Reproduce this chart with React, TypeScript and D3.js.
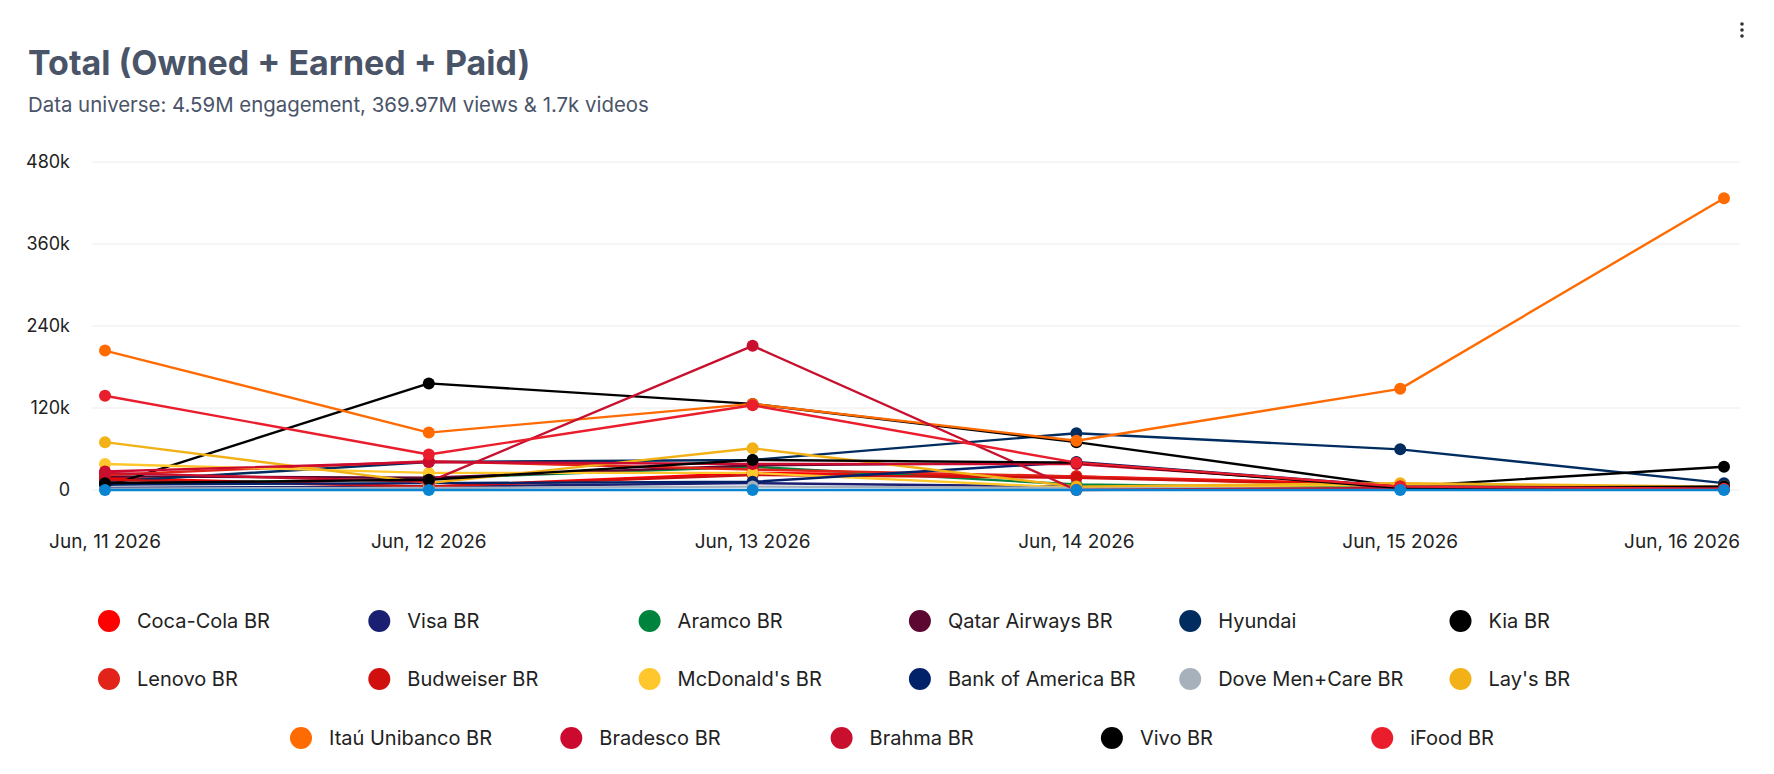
import React, { useRef, useEffect } from 'react';
import * as d3 from 'd3';

const dates = ['Jun, 11 2026', 'Jun, 12 2026', 'Jun, 13 2026', 'Jun, 14 2026', 'Jun, 15 2026', 'Jun, 16 2026'];
const yTicks = [0, 120000, 240000, 360000, 480000];

const brands = [
  'Coca-Cola BR', 'Visa BR', 'Aramco BR', 'Qatar Airways BR', 'Hyundai', 'Kia BR',
  'Lenovo BR', 'Budweiser BR', "McDonald's BR", 'Bank of America BR', 'Dove Men+Care BR', "Lay's BR",
  'Itaú Unibanco BR', 'Bradesco BR', 'Brahma BR', 'Vivo BR', 'iFood BR',
];
const colors = [
  '#FF0000', '#1A1F71', '#00843D', '#5C0632', '#002C5F', '#000000',
  '#E2231A', '#D0100F', '#FFC72C', '#012169', '#A7B1BC', '#F2B217',
  '#FF6B00', '#CC092F', '#C8102E', '#000000', '#EA1D2C',
];
// values in thousands, one per date
const values = [
  [18, 5, 25, 20, 8, 3],
  [3, 5, 10, 5, 2, 2],
  [8, 17, 34, 8, 3, 2],
  [20, 18, 36, 40, 4, 2],
  [12, 41, 44, 83, 59.5, 10],
  [5, 156, 126, 70, 5, 34],
  [22, 42, 30, 20, 5, 3],
  [15, 5, 22, 18, 6, 2],
  [38, 25, 25, 3, 8, 2],
  [8, 10, 12, 41, 5, 5],
  [2, 3, 5, 3, 2, 1],
  [70, 10, 61, 5, 10, 5],
  [204, 84, 126, 72, 148, 427],
  [27, 41, 38, 38, 5, 2],
  [25, 12, 211, 0, 3, 2],
  [10, 15, 44, 40, 3, 5],
  [138, 52, 124, 40, 5, 2],
];
// unlabelled series sitting on the baseline
const baseSeries = [0, 0, 0, 0, 0, 0];
const baseColor = '#0A84D0';

const FONT = 'Inter, "Noto Sans", sans-serif';

export default function App() {
  const svgRef = useRef<SVGSVGElement>(null);

  useEffect(() => {
    document.body.style.margin = '0';
    const width = 1774;
    const height = 774;
    const svg = d3.select(svgRef.current).attr('width', width).attr('height', height);
    svg.selectAll('*').remove();

    const margins = { left: 92, right: 34, top: 162, bottom: 490 };
    const x = d3.scalePoint<string>().domain(dates).range([105, 1724]);
    const y = d3.scaleLinear().domain([0, 480000]).range([margins.bottom, margins.top]);

    // title
    svg.append('text').attr('x', 28).attr('y', 75)
      .attr('font-family', FONT).attr('font-weight', 700).attr('font-size', 34)
      .attr('fill', '#4A5468').text('Total (Owned + Earned + Paid)');
    svg.append('text').attr('x', 28).attr('y', 112)
      .attr('font-family', FONT).attr('font-size', 20.4)
      .attr('fill', '#4A5468').text('Data universe: 4.59M engagement, 369.97M views & 1.7k videos');

    // kebab menu
    [24, 30, 36].forEach(cy => {
      svg.append('circle').attr('cx', 1742).attr('cy', cy).attr('r', 1.8).attr('fill', '#333');
    });

    // grid + y labels
    const grid = svg.append('g');
    yTicks.forEach(t => {
      grid.append('line')
        .attr('x1', margins.left).attr('x2', width - margins.right)
        .attr('y1', y(t)).attr('y2', y(t))
        .attr('stroke', '#ECECEC').attr('stroke-width', 1);
      grid.append('text')
        .attr('x', 70).attr('y', y(t)).attr('dy', '0.35em')
        .attr('text-anchor', 'end')
        .attr('font-family', FONT).attr('font-size', 18).attr('fill', '#222')
        .text(t === 0 ? '0' : `${t / 1000}k`);
    });

    // x labels
    dates.forEach((d, i) => {
      const last = i === dates.length - 1;
      svg.append('text')
        .attr('x', last ? width - margins.right : (x(d) as number))
        .attr('y', 541).attr('dy', '0.35em')
        .attr('text-anchor', last ? 'end' : 'middle')
        .attr('font-family', FONT).attr('font-size', 19).attr('fill', '#222')
        .text(d);
    });

    const line = d3.line<number>()
      .x((_, i) => x(dates[i]) as number)
      .y(v => y(v * 1000));

    const allSeries = values.map((v, i) => ({ v, c: colors[i] }));
    allSeries.push({ v: baseSeries, c: baseColor });

    const lines = svg.append('g');
    allSeries.forEach(s => {
      lines.append('path').datum(s.v)
        .attr('fill', 'none').attr('stroke', s.c).attr('stroke-width', 2.4)
        .attr('stroke-linejoin', 'round').attr('d', line);
    });
    allSeries.forEach(s => {
      lines.selectAll(null).data(s.v).enter().append('circle')
        .attr('cx', (_, i) => x(dates[i]) as number)
        .attr('cy', v => y(v * 1000))
        .attr('r', 6).attr('fill', s.c);
    });

    // legend
    const legend = svg.append('g');
    const rowY = [621, 679, 738];
    brands.forEach((b, i) => {
      const row = Math.floor(i / 6);
      const col = i % 6;
      const lx = (row < 2 ? 109 : 301) + col * 270.3;
      const ly = rowY[row];
      legend.append('circle').attr('cx', lx).attr('cy', ly).attr('r', 11).attr('fill', colors[i]);
      legend.append('text').attr('x', lx + 28).attr('y', ly).attr('dy', '0.35em')
        .attr('font-family', FONT).attr('font-size', 20).attr('fill', '#222').text(b);
    });
  }, []);

  return <svg ref={svgRef} style={{ display: 'block', background: '#fff' }} />;
}
